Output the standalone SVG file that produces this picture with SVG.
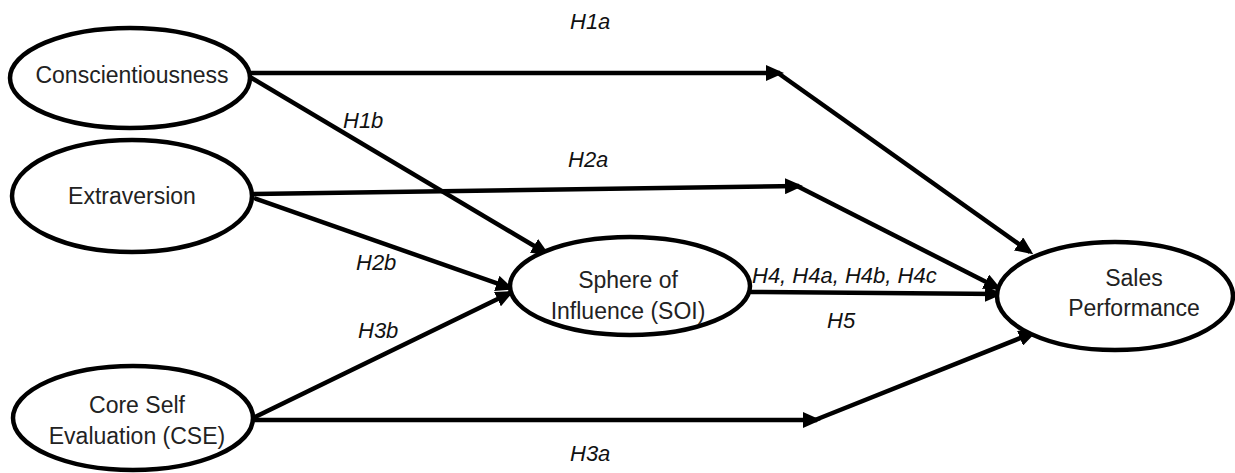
<svg xmlns="http://www.w3.org/2000/svg" width="1235" height="473" viewBox="0 0 1235 473">
<style>
.n{fill:#fff;stroke:#000;stroke-width:4.5}
.t{font-family:"Liberation Sans",Arial,sans-serif;font-size:23px;fill:#222;text-anchor:middle}
.l{font-family:"Liberation Sans",Arial,sans-serif;font-size:22px;font-style:italic;fill:#111}
.c{stroke:#000;stroke-width:4.5;fill:none}
</style>
<defs>
<marker id="a" markerUnits="userSpaceOnUse" markerWidth="18" markerHeight="16" viewBox="0 0 18 16" refX="14" refY="8" orient="auto">
<path d="M0,0 L18,8 L0,16 z" fill="#000"/>
</marker>
</defs>
<rect width="1235" height="473" fill="#fff"/>
<g id="connectors">
<line class="c" x1="250" y1="73" x2="780" y2="73" marker-end="url(#a)"/>
<line class="c" x1="778" y1="73" x2="1030" y2="252" marker-end="url(#a)"/>
<line class="c" x1="252" y1="194" x2="799" y2="186" marker-end="url(#a)"/>
<line class="c" x1="797" y1="186" x2="998" y2="288" marker-end="url(#a)"/>
<line class="c" x1="250" y1="77" x2="546" y2="253" marker-end="url(#a)"/>
<line class="c" x1="254" y1="198" x2="510" y2="288" marker-end="url(#a)"/>
<line class="c" x1="253" y1="418" x2="510" y2="293" marker-end="url(#a)"/>
<line class="c" x1="253" y1="420" x2="817" y2="420" marker-end="url(#a)"/>
<line class="c" x1="815" y1="420" x2="1033" y2="333" marker-end="url(#a)"/>
<line class="c" x1="750" y1="292" x2="999" y2="294" marker-end="url(#a)"/>
</g>
<g id="conscientiousness">
<ellipse class="n" cx="130" cy="78" rx="120" ry="50"/>
<text class="t" x="132" y="83">Conscientiousness</text>
</g>
<g id="extraversion">
<ellipse class="n" cx="132" cy="196" rx="120" ry="56"/>
<text class="t" x="132" y="204">Extraversion</text>
</g>
<g id="cse">
<ellipse class="n" cx="133" cy="418" rx="120" ry="52"/>
<text class="t" x="137" y="413">Core Self</text>
<text class="t" x="137" y="444">Evaluation (CSE)</text>
</g>
<g id="soi">
<ellipse class="n" cx="630" cy="286" rx="120" ry="49"/>
<text class="t" x="628" y="288">Sphere of</text>
<text class="t" x="628" y="319">Influence (SOI)</text>
</g>
<g id="sales">
<ellipse class="n" cx="1115" cy="296" rx="118" ry="54"/>
<text class="t" x="1134" y="286">Sales</text>
<text class="t" x="1134" y="316">Performance</text>
</g>
<g id="labels">
<text class="l" x="570" y="29">H1a</text>
<text class="l" x="343" y="128">H1b</text>
<text class="l" x="568" y="167">H2a</text>
<text class="l" x="356" y="270">H2b</text>
<text class="l" x="358" y="338">H3b</text>
<text class="l" x="752" y="283">H4, H4a, H4b, H4c</text>
<text class="l" x="827" y="328">H5</text>
<text class="l" x="570" y="461">H3a</text>
</g>
</svg>
